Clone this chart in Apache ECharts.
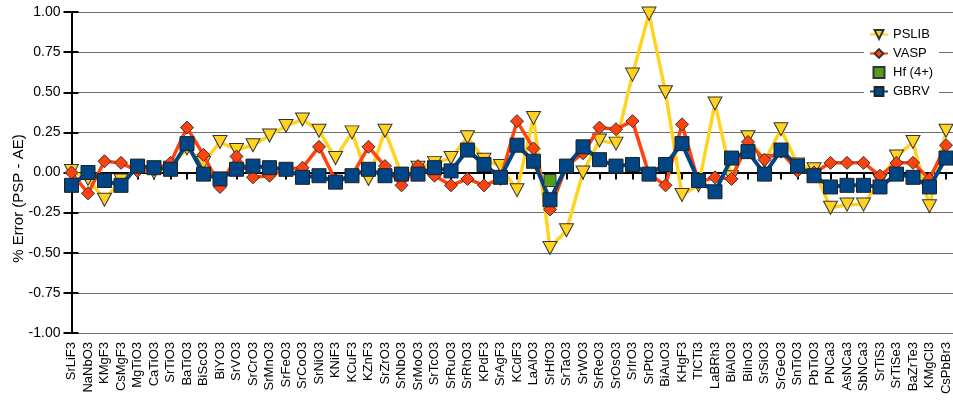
<!DOCTYPE html>
<html>
<head>
<meta charset="utf-8">
<script src="https://cdn.jsdelivr.net/npm/echarts/dist/echarts.min.js"></script>
<style>
html,body{margin:0;padding:0;background:#fff;}
#chart{width:953px;height:414px;}
</style>
</head>
<body>
<div id="chart"></div>
<script>
const categories = ['SrLiF3','NaNbO3','KMgF3','CsMgF3','MgTiO3','CaTiO3','SrTiO3','BaTiO3','BiScO3','BiYO3','SrVO3','SrCrO3','SrMnO3','SrFeO3','SrCoO3','SrNiO3','KNiF3','KCuF3','KZnF3','SrZrO3','SrNbO3','SrMoO3','SrTcO3','SrRuO3','SrRhO3','KPdF3','SrAgF3','KCdF3','LaAlO3','SrHfO3','SrTaO3','SrWO3','SrReO3','SrOsO3','SrIrO3','SrPtO3','BiAuO3','KHgF3','TlCTi3','LaBRh3','BiAlO3','BiInO3','SrSiO3','SrGeO3','SnTiO3','PbTiO3','PNCa3','AsNCa3','SbNCa3','SrTiS3','SrTiSe3','BaZrTe3','KMgCl3','CsPbBr3'];
const pslib = [0.01,-0.04,-0.17,-0.05,0.02,0.00,0.03,0.15,0.06,0.19,0.14,0.17,0.23,0.29,0.33,0.26,0.09,0.25,-0.04,0.26,-0.01,0.03,0.06,0.09,0.22,0.08,0.04,-0.11,0.34,-0.47,-0.36,0.00,0.20,0.18,0.61,0.99,0.50,-0.14,-0.08,0.43,-0.03,0.22,0.07,0.27,0.05,0.02,-0.22,-0.20,-0.20,-0.05,0.10,0.19,-0.21,0.26];
const vasp = [0.00,-0.13,0.07,0.06,0.01,0.02,0.06,0.28,0.11,-0.09,0.10,-0.03,-0.02,0.02,0.03,0.16,-0.05,-0.02,0.16,0.04,-0.08,0.04,-0.02,-0.08,-0.04,-0.08,-0.04,0.32,0.15,-0.23,0.04,0.12,0.28,0.27,0.32,-0.01,-0.08,0.30,-0.06,-0.03,-0.04,0.19,0.08,0.13,0.01,0.00,0.06,0.06,0.06,-0.02,0.06,0.06,-0.04,0.17];
const gbrv = [-0.08,0.00,-0.05,-0.08,0.04,0.03,0.02,0.18,-0.01,-0.04,0.02,0.04,0.03,0.02,-0.03,-0.02,-0.06,-0.02,0.02,-0.02,-0.01,-0.01,0.03,0.01,0.14,0.05,-0.03,0.17,0.07,-0.17,0.04,0.16,0.08,0.04,0.05,-0.01,0.05,0.18,-0.05,-0.12,0.09,0.13,-0.01,0.14,0.04,-0.02,-0.09,-0.08,-0.08,-0.09,-0.01,-0.03,-0.09,0.09];
const hfCategories = ['SrHfO3'];
const hfValues = [-0.05];
const yTicks = {min: -1, max: 1, interval: 0.25};

const FONT = 'Liberation Sans';
const chart = echarts.init(document.getElementById('chart'), null, {renderer: 'canvas'});
chart.setOption({
  animation: false,
  backgroundColor: '#fff',
  textStyle: {fontFamily: FONT},
  grid: {left: 71.5, right: -9.5, top: 12, bottom: 81, containLabel: false, outerBoundsMode: 'none'},
  legend: {
    left: 864, top: 24, orient: 'vertical',
    backgroundColor: '#fff', padding: [4, 6, 4, 5],
    itemWidth: 18, itemHeight: 11, itemGap: 6,
    textStyle: {fontFamily: FONT, fontSize: 13, color: '#000'},
    data: ['PSLIB', 'VASP', {name: 'Hf (4+)', icon: 'path://M0,0H10V10H0Z'}, 'GBRV']
  },
  xAxis: [{
    type: 'category', data: categories, boundaryGap: false, max: categories.length,
    axisLine: {lineStyle: {color: '#000', width: 2}},
    axisTick: {show: true, interval: 0, length: 7, lineStyle: {color: '#000', width: 2}},
    axisLabel: {interval: 0, rotate: 90, margin: 9, fontSize: 13, color: '#000', fontFamily: FONT,
      formatter: v => (v == null ? '' : v)},
    splitLine: {show: false}
  }, {
    type: 'category', data: categories, boundaryGap: false, max: categories.length, position: 'top',
    axisLine: {lineStyle: {color: '#000', width: 2}},
    axisTick: {show: false}, axisLabel: {show: false}, splitLine: {show: false}
  }],
  yAxis: [{
    type: 'value', min: yTicks.min, max: yTicks.max, interval: yTicks.interval,
    name: '% Error (PSP - AE)', nameLocation: 'middle', nameGap: 45, nameMoveOverlap: false,
    nameTextStyle: {fontSize: 15, color: '#000', fontFamily: FONT, padding: [0, 52, 0, 0]},
    axisLine: {show: true, lineStyle: {color: '#000', width: 2}},
    axisTick: {show: true, length: 8, lineStyle: {color: '#000', width: 2}},
    axisLabel: {margin: 11, fontSize: 14, color: '#000', fontFamily: FONT, formatter: v => v.toFixed(2)},
    splitLine: {show: true, lineStyle: {color: '#6e6e6e', width: 1.2}}
  }, {
    type: 'value', min: yTicks.min, max: yTicks.max, interval: yTicks.interval, position: 'left',
    axisLine: {show: false},
    axisTick: {show: true, inside: true, length: 7, lineStyle: {color: '#000', width: 2}},
    axisLabel: {show: false}, splitLine: {show: false}
  }],
  series: [
    {name: 'PSLIB', type: 'line', data: pslib, z: 2,
      symbol: 'triangle', symbolRotate: 180, symbolSize: [14, 13],
      lineStyle: {color: '#ffd320', width: 3.5},
      itemStyle: {color: '#ffd320', borderColor: '#333', borderWidth: 1}},
    {name: 'VASP', type: 'line', data: vasp, z: 3,
      symbol: 'diamond', symbolSize: [13, 13],
      lineStyle: {color: '#ff420e', width: 3.5},
      itemStyle: {color: '#ff420e', borderColor: '#333', borderWidth: 1}},
    {name: 'GBRV', type: 'line', data: gbrv, z: 4,
      symbol: 'rect', symbolSize: 14,
      lineStyle: {color: '#004586', width: 4},
      itemStyle: {color: '#004586', borderColor: '#222', borderWidth: 1}},
    {name: 'Hf (4+)', type: 'scatter', z: 5, symbolKeepAspect: true,
      data: hfCategories.map((c, i) => [c, hfValues[i]]),
      symbol: 'rect', symbolSize: 12,
      itemStyle: {color: '#579d1c', borderColor: '#333', borderWidth: 1, opacity: 1}}
  ]
});
</script>
</body>
</html>
